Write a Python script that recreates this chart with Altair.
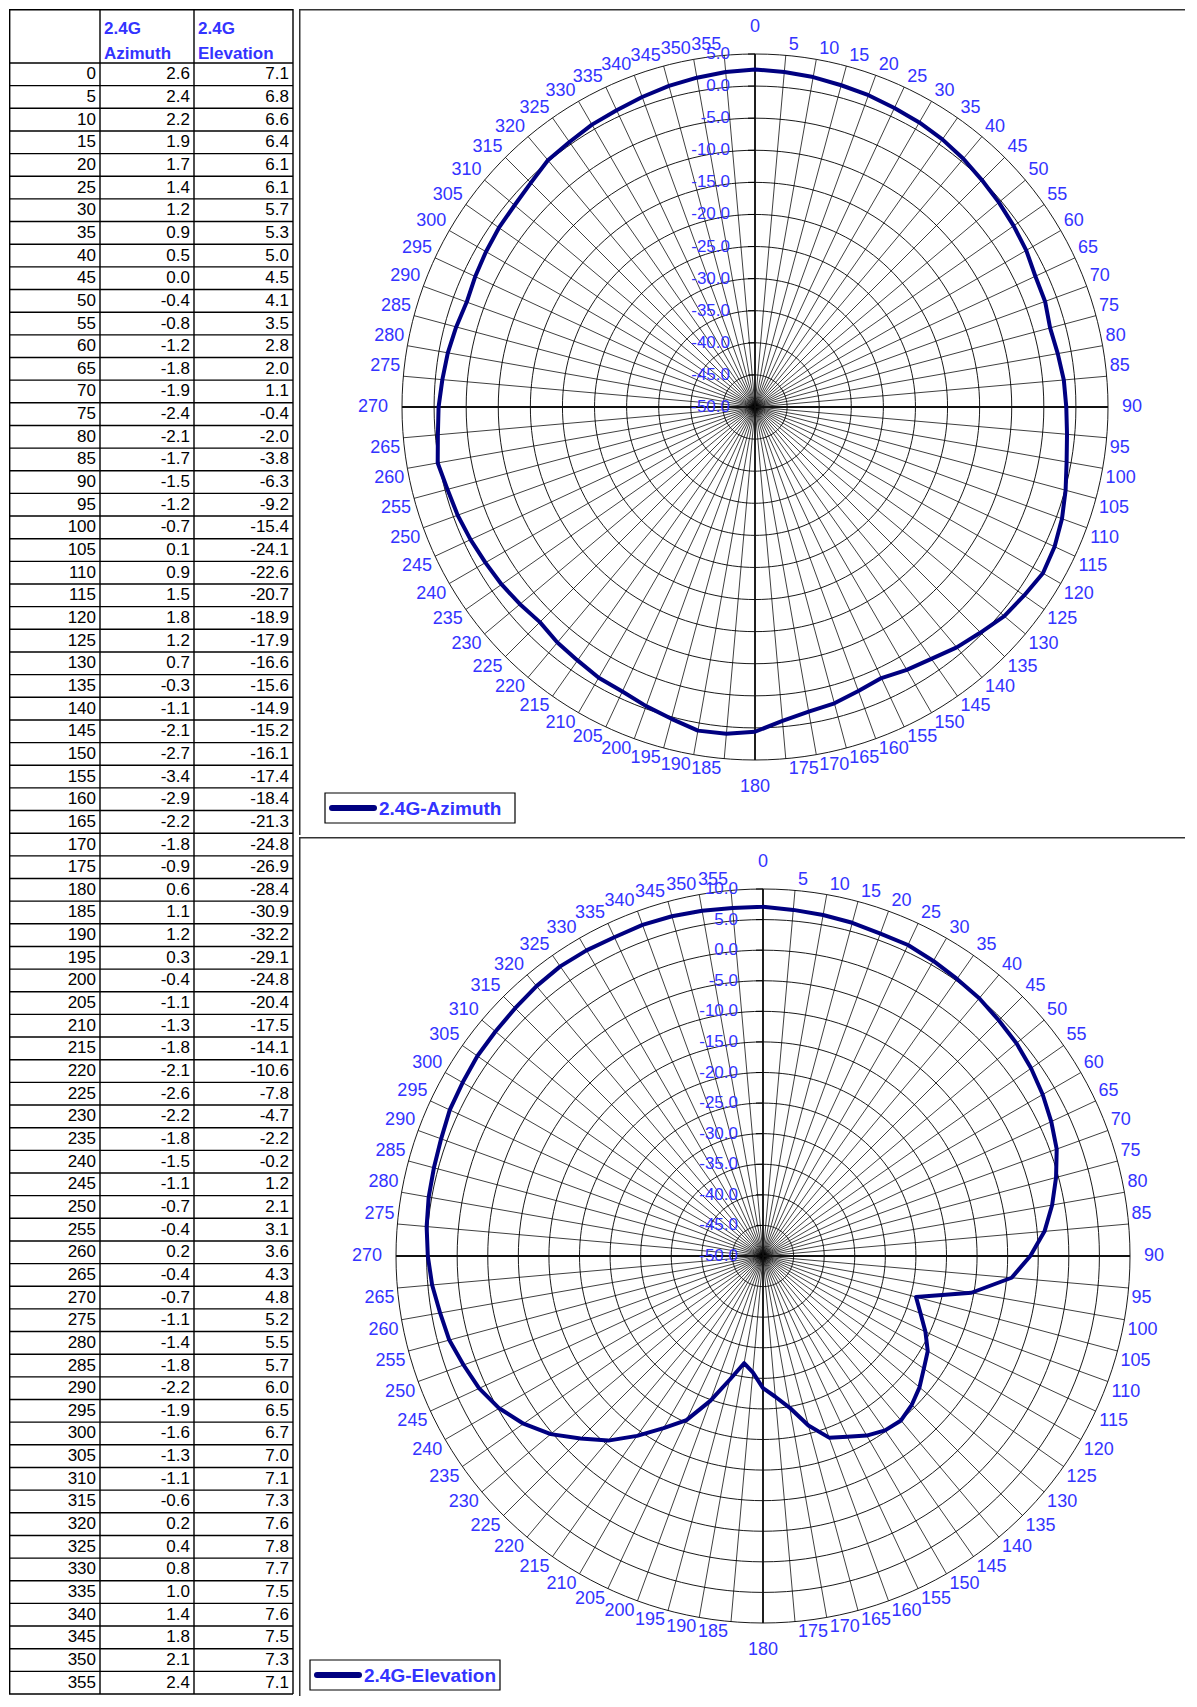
import altair as alt
import pandas as pd

# ---------------- data ----------------
angles = list(range(0, 360, 5))
azimuth = [2.6, 2.4, 2.2, 1.9, 1.7, 1.4, 1.2, 0.9, 0.5, 0.0,
           -0.4, -0.8, -1.2, -1.8, -1.9, -2.4, -2.1, -1.7, -1.5, -1.2,
           -0.7, 0.1, 0.9, 1.5, 1.8, 1.2, 0.7, -0.3, -1.1, -2.1,
           -2.7, -3.4, -2.9, -2.2, -1.8, -0.9, 0.6, 1.1, 1.2, 0.3,
           -0.4, -1.1, -1.3, -1.8, -2.1, -2.6, -2.2, -1.8, -1.5, -1.1,
           -0.7, -0.4, 0.2, -0.4, -0.7, -1.1, -1.4, -1.8, -2.2, -1.9,
           -1.6, -1.3, -1.1, -0.6, 0.2, 0.4, 0.8, 1.0, 1.4, 1.8,
           2.1, 2.4]
elevation = [7.1, 6.8, 6.6, 6.4, 6.1, 6.1, 5.7, 5.3, 5.0, 4.5,
             4.1, 3.5, 2.8, 2.0, 1.1, -0.4, -2.0, -3.8, -6.3, -9.2,
             -15.4, -24.1, -22.6, -20.7, -18.9, -17.9, -16.6, -15.6, -14.9, -15.2,
             -16.1, -17.4, -18.4, -21.3, -24.8, -26.9, -28.4, -30.9, -32.2, -29.1,
             -24.8, -20.4, -17.5, -14.1, -10.6, -7.8, -4.7, -2.2, -0.2, 1.2,
             2.1, 3.1, 3.6, 4.3, 4.8, 5.2, 5.5, 5.7, 6.0, 6.5,
             6.7, 7.0, 7.1, 7.3, 7.6, 7.8, 7.7, 7.5, 7.6, 7.5,
             7.3, 7.1]
az_rings = [-50, -45, -40, -35, -30, -25, -20, -15, -10, -5, 0, 5]
el_rings = [-50, -45, -40, -35, -30, -25, -20, -15, -10, -5, 0, 5, 10]
series_names = ["2.4G-Azimuth", "2.4G-Elevation"]
header_top = ["2.4G", "2.4G"]
header_bottom = ["Azimuth", "Elevation"]

# ---------------- style / layout ----------------
FONT = "Liberation Sans"
BLUE = "#3333ff"
NAVY = "#000080"

TW = 289          # table panel width
TH = 1685         # total height
HDR = 54          # header height (px)
NROWS = len(angles)
ROWH = (TH - HDR) / NROWS
PW = 886          # polar panel width
PH_TOP = 826
PH_BOT = TH - PH_TOP

one = pd.DataFrame({"k": [0]})


def polar_panel(values, name, rings, W, H, cx, cy, R, legx, legy):
    rmin, rmax = rings[0], rings[-1]
    span = rmax - rmin
    k = R / span  # px per dB
    xs = alt.Scale(domain=[-cx / k, (W - cx) / k], nice=False, zero=False)
    ys = alt.Scale(domain=[-(H - cy) / k, cy / k], nice=False, zero=False)

    def X(f):
        return alt.X(f, type="quantitative", scale=xs, axis=None)

    def Y(f):
        return alt.Y(f, type="quantitative", scale=ys, axis=None)

    # rings
    ring_layer = alt.Chart(pd.DataFrame({"r": rings[1:]})).transform_calculate(
        a="sequence(0, 361, 2)"
    ).transform_flatten(["a"]).transform_calculate(
        px=f"(datum.r - ({rmin})) * sin(datum.a * PI / 180)",
        py=f"(datum.r - ({rmin})) * cos(datum.a * PI / 180)",
    ).mark_line(color="black", strokeWidth=0.9).encode(
        x=X("px"), y=Y("py"), detail="r:N", order="a:Q"
    )

    # spokes
    spk = alt.Chart(pd.DataFrame({"angle": angles})).transform_calculate(
        x0="0", y0="0",
        x1=f"{span} * sin(datum.angle * PI / 180)",
        y1=f"{span} * cos(datum.angle * PI / 180)",
    )
    spokes = spk.mark_rule(color="black", strokeWidth=0.75).encode(
        x=X("x0"), y=Y("y0"), x2="x1:Q", y2="y1:Q"
    )
    main_axes = spk.transform_filter("datum.angle % 90 == 0").mark_rule(
        color="#111111", strokeWidth=1.8
    ).encode(x=X("x0"), y=Y("y0"), x2="x1:Q", y2="y1:Q")

    # value ticks & labels
    rdf = pd.DataFrame({"r": rings, "lab": [f"{r:.1f}" for r in rings]})
    ticks = alt.Chart(rdf).transform_calculate(
        tx0=f"{-7 / k}", tx1="0", ty=f"datum.r - ({rmin})"
    ).mark_rule(color="black", strokeWidth=1).encode(
        x=X("tx0"), x2="tx1:Q", y=Y("ty")
    )
    vlabels = alt.Chart(rdf).transform_calculate(
        lx=f"{-25 / k}", ly=f"datum.r - ({rmin})"
    ).mark_text(align="right", baseline="middle", font=FONT, fontSize=17,
                color=BLUE).encode(x=X("lx"), y=Y("ly"), text="lab:N")

    # angle labels
    adf = pd.DataFrame({"angle": angles, "lab": [str(a) for a in angles]})
    alabels = alt.Chart(adf).transform_calculate(
        s="sin(datum.angle * PI / 180)",
        c="cos(datum.angle * PI / 180)",
    ).transform_calculate(
        w="length(datum.lab) * 10",
        sx="abs(datum.s) < 0.01 ? 0 : (datum.s > 0 ? 1 : -1)",
        sy="abs(datum.c) < 0.01 ? 0 : (datum.c > 0 ? 1 : -1)",
    ).transform_calculate(
        ox="datum.sx * (datum.w / 2 + (datum.sy == 0 ? 14 : 3))",
        oy="datum.sy * (7 + (datum.sx == 0 ? 20 : 3))",
    ).transform_calculate(
        lx=f"{span} * datum.s + datum.ox / {k}",
        ly=f"{span} * datum.c + datum.oy / {k}",
    ).mark_text(align="center", baseline="middle", font=FONT, fontSize=18,
                color=BLUE).encode(x=X("lx"), y=Y("ly"), text="lab:N")

    # data line (closed)
    ldf = pd.DataFrame({
        "angle": angles + [360],
        "value": values + [values[0]],
    })
    line = alt.Chart(ldf).transform_calculate(
        px=f"(datum.value - ({rmin})) * sin(datum.angle * PI / 180)",
        py=f"(datum.value - ({rmin})) * cos(datum.angle * PI / 180)",
    ).mark_line(strokeWidth=4, strokeJoin="round", strokeCap="round",
                color=NAVY).encode(
        x=X("px"), y=Y("py"), order="angle:Q",
    )

    # legend (box, line sample, label)
    leg_box = alt.Chart(one).mark_rect(fill="white", stroke="black",
                                       strokeWidth=1.2).encode(
        x=alt.value(legx), x2=alt.value(legx + 190),
        y=alt.value(legy), y2=alt.value(legy + 30))
    leg_line = alt.Chart(one).mark_rule(color=NAVY, strokeWidth=6,
                                        strokeCap="round").encode(
        x=alt.value(legx + 7), x2=alt.value(legx + 49),
        y=alt.value(legy + 15))
    leg_text = alt.Chart(one).mark_text(
        align="left", baseline="middle", font=FONT, fontSize=19,
        fontWeight="bold", color=BLUE, text=name).encode(
        x=alt.value(legx + 54), y=alt.value(legy + 16))

    # panel borders (top & left)
    btop = alt.Chart(one).mark_rule(color="#333333", strokeWidth=1.5).encode(
        x=alt.value(0), x2=alt.value(W), y=alt.value(0.75))
    bleft = alt.Chart(one).mark_rule(color="#333333", strokeWidth=1.5).encode(
        x=alt.value(0.75), y=alt.value(0), y2=alt.value(H))

    return alt.layer(ring_layer, spokes, main_axes, ticks, line, vlabels,
                     alabels, leg_box, leg_line, leg_text, btop,
                     bleft).properties(width=W, height=H)


# ---------------- table ----------------
tdf = pd.DataFrame({
    "i": list(range(NROWS)),
    "ang": [str(a) for a in angles],
    "az": [f"{v:.1f}" for v in azimuth],
    "el": [f"{v:.1f}" for v in elevation],
})
yts = alt.Scale(domain=[-HDR / ROWH, NROWS], reverse=True,
                nice=False, zero=False)
base = alt.Chart(tdf).transform_calculate(yc="datum.i + 0.5")
tlayers = []
for field, xr in [("ang", 87), ("az", 181), ("el", 280)]:
    tlayers.append(base.mark_text(align="right", baseline="middle", font=FONT,
                                  fontSize=17, color="black").encode(
        x=alt.value(xr), y=alt.Y("yc:Q", scale=yts, axis=None),
        text=f"{field}:N"))
# row lines
tlayers.append(alt.Chart(pd.DataFrame({"b": list(range(NROWS + 1))}))
               .mark_rule(color="black", strokeWidth=1.4).encode(
    x=alt.value(0), x2=alt.value(284),
    y=alt.Y("b:Q", scale=yts, axis=None)))
tlayers.append(alt.Chart(one).mark_rule(color="black", strokeWidth=1.4).encode(
    x=alt.value(0), x2=alt.value(284), y=alt.value(0.7)))
for xv in [0.7, 91, 185, 284]:
    tlayers.append(alt.Chart(one).mark_rule(color="black", strokeWidth=1.4).encode(
        x=alt.value(xv), y=alt.value(0), y2=alt.value(TH)))
# header
for xv, t1, t2 in zip([95, 189], header_top, header_bottom):
    tlayers.append(alt.Chart(one).mark_text(
        align="left", baseline="alphabetic", font=FONT, fontSize=17,
        fontWeight="bold", color=BLUE, text=t1).encode(
        x=alt.value(xv), y=alt.value(25)))
    tlayers.append(alt.Chart(one).mark_text(
        align="left", baseline="alphabetic", font=FONT, fontSize=17,
        fontWeight="bold", color=BLUE, text=t2).encode(
        x=alt.value(xv), y=alt.value(50)))
table = alt.layer(*tlayers).properties(width=TW, height=TH)

# ---------------- polar panels ----------------
top = polar_panel(azimuth, series_names[0], az_rings, PW, PH_TOP,
                  456, 398, 353, 26, 784)
bot = polar_panel(elevation, series_names[1], el_rings, PW, PH_BOT,
                  464, 419, 367, 11, 823)

right = alt.vconcat(top, bot, spacing=0)

chart = alt.hconcat(table, right, spacing=0).properties(padding=0).configure_view(
    stroke=None)

chart.save("out.html", embed_options={"renderer": "svg", "actions": False})
